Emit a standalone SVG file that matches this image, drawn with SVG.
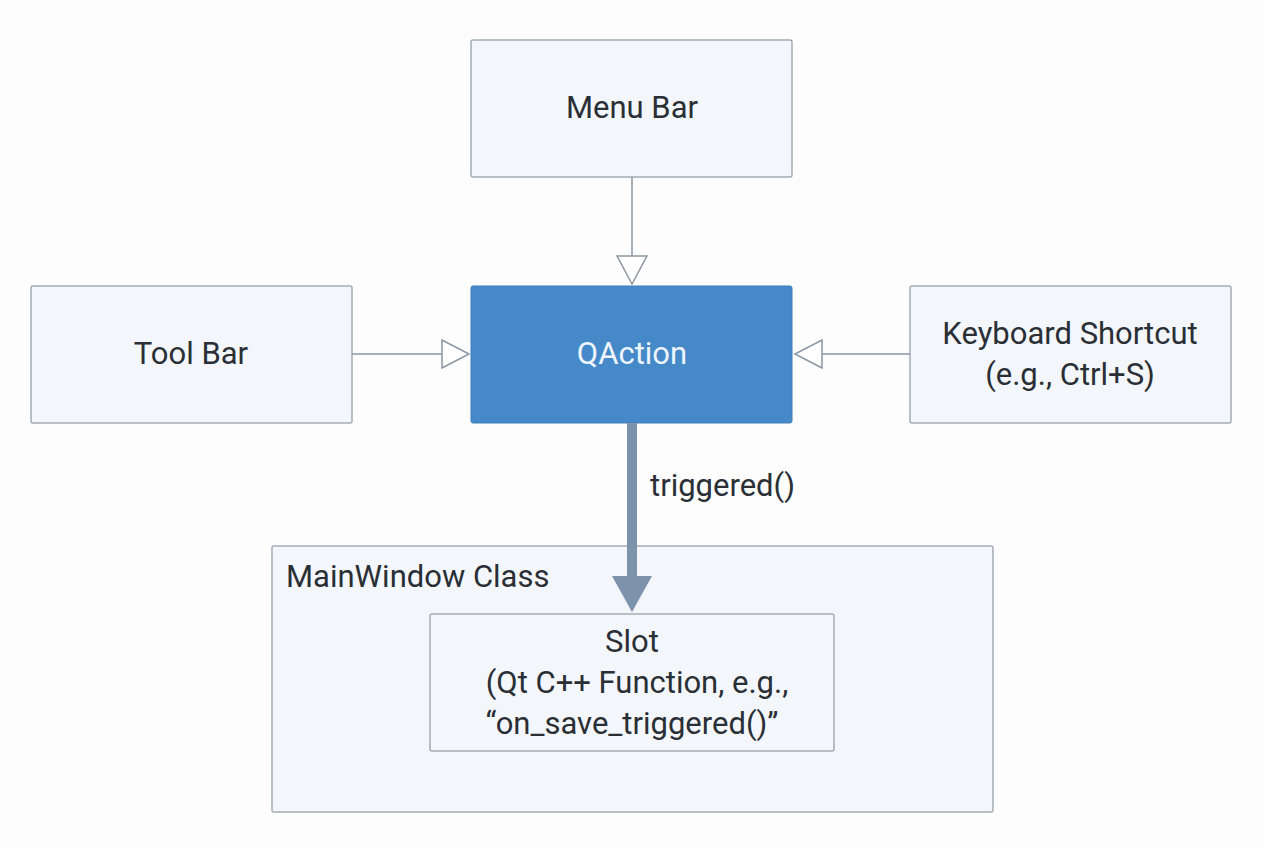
<svg xmlns="http://www.w3.org/2000/svg" width="1264" height="848" viewBox="0 0 1264 848">
<style>
.box{fill:#f3f7fb;stroke:#a3acb6;stroke-width:1.5}
.t{font-family:Roboto,"Liberation Sans",sans-serif;font-size:31px;fill:#2a2f36;text-anchor:middle}
.c{fill:none;stroke:#8a96a3;stroke-width:1.5}
.h{fill:#fff;stroke:#8a96a3;stroke-width:1.5}
</style>
<rect width="1264" height="848" fill="#fdfdfd"/>
<g id="menubar"><rect class="box" x="471" y="40" width="321" height="137" rx="2"/><text class="t" x="632" y="118">Menu Bar</text></g>
<g id="toolbar"><rect class="box" x="31" y="286" width="321" height="137" rx="2"/><text class="t" x="191" y="364">Tool Bar</text></g>
<g id="qaction"><rect x="471" y="286" width="321" height="137" rx="2" fill="#4589c8" stroke="#3f7fbb"/><text class="t" x="632" y="364" style="fill:#eef5fc">QAction</text></g>
<g id="shortcut"><rect class="box" x="910" y="286" width="321" height="137" rx="2"/><text class="t" x="1070" y="344">Keyboard Shortcut</text><text class="t" x="1070" y="385">(e.g., Ctrl+S)</text></g>
<g id="mainwindow"><rect class="box" x="272" y="546" width="721" height="266" rx="2"/><text class="t" x="286" y="587" style="text-anchor:start">MainWindow Class</text></g>
<g id="slot"><rect class="box" x="430" y="614" width="404" height="137" rx="2"/><text class="t" x="632" y="652">Slot</text><text class="t" x="637" y="693">(Qt C++ Function, e.g.,</text><text class="t" x="632" y="734">“on_save_triggered()”</text></g>
<g id="connectors">
<line class="c" x1="632" y1="177" x2="632" y2="256"/><polygon class="h" points="617,256 647,256 632,284"/>
<line class="c" x1="352" y1="354" x2="442" y2="354"/><polygon class="h" points="442,340 442,368 469,354"/>
<line class="c" x1="910" y1="354" x2="822" y2="354"/><polygon class="h" points="822,340 822,368 795,354"/>
<rect x="627" y="423" width="10" height="155" fill="#7d93ab"/><polygon points="612,576 652,576 632,612" fill="#7d93ab"/>
<text class="t" x="650" y="496" style="text-anchor:start">triggered()</text>
</g>
</svg>
